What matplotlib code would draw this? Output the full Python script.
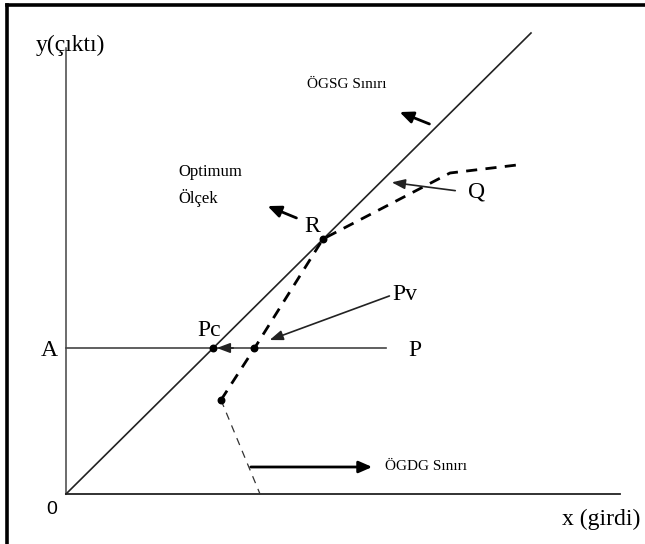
import matplotlib
matplotlib.use("Agg")
import matplotlib.pyplot as plt
import numpy as np

# frontier points (x = input, y = output)
crs_x = [0, 465]
crs_y = [0, 461]
vrs_x = [155, 188, 257, 384, 451]
vrs_y = [94, 145, 255, 321, 329]
ndrs_x = [155, 194]
ndrs_y = [94, 0]
level_A = 146
p_line_x = [0, 320]
dots_x = [147, 188, 155, 257]
dots_y = [146, 146, 94, 255]

serif = "Liberation Serif"

fig = plt.figure(figsize=(6.45, 5.44), dpi=100)
ax = fig.add_axes([0, 0, 1, 1])
ax.set_xlim(-66, 579)
ax.set_ylim(-50, 494)
ax.axis("off")

# border lines at top and left
fig.add_artist(plt.Line2D([7 / 645, 1], [1 - 5 / 544, 1 - 5 / 544], color="black", lw=2.6))
fig.add_artist(plt.Line2D([7 / 645, 7 / 645], [0, 1 - 5 / 544], color="black", lw=2.6))

# axes
ax.plot([0, 0], [0, 446], color="#444444", lw=1.1)
ax.plot([0, 554], [0, 0], color="#222222", lw=1.3)

# CRS line
ax.plot(crs_x, crs_y, color="#222222", lw=1.2)
# horizontal at A
ax.plot(p_line_x, [level_A, level_A], color="#444444", lw=1.2)
# VRS frontier
ax.plot(vrs_x, vrs_y, color="black", lw=2.0, ls=(0, (4, 3)))
ax.plot(ndrs_x, ndrs_y, color="#333333", lw=0.9, ls=(0, (6, 5)))
ax.scatter(dots_x, dots_y, s=22, color="black", zorder=5)

arrow_big = dict(arrowstyle="-|>,head_length=0.8,head_width=0.35", color="black", lw=2.0)
arrow_thin = dict(arrowstyle="-|>,head_length=0.8,head_width=0.3", color="#222222", lw=1.2)

# ÖGSG
ax.annotate("", xy=(331, 383), xytext=(366, 369), arrowprops=arrow_big)
ax.text(241, 409, "ÖGSG Sınırı", family=serif, fontsize=11, va="center")
# optimum scale
ax.annotate("", xy=(199, 289), xytext=(233, 275), arrowprops=arrow_big)
ax.text(112, 322, "Optimum", family=serif, fontsize=12, va="center")
ax.text(112, 296, "Ölçek", family=serif, fontsize=12, va="center")
ax.text(238, 268, "R", family=serif, fontsize=17, va="center")
# Q
ax.annotate("", xy=(323, 312), xytext=(392, 303), arrowprops=arrow_thin)
ax.text(402, 302, "Q", family=serif, fontsize=17, va="center")
# Pv
ax.annotate("", xy=(201, 153), xytext=(326, 199), arrowprops=arrow_thin)
ax.text(326, 199, "Pv", family=serif, fontsize=17, va="center")
# Pc
ax.annotate("", xy=(148, level_A), xytext=(170, level_A), arrowprops=arrow_thin)
ax.text(131, 164, "Pc", family=serif, fontsize=17, va="center")
ax.text(342, level_A - 2, "P", family=serif, fontsize=17, va="center")
ax.text(-8, level_A - 2, "A", family=serif, fontsize=17, va="center", ha="right")
# ÖGDG
ax.annotate("", xy=(309, 27), xytext=(182, 27), arrowprops=arrow_big)
ax.text(319, 28, "ÖGDG Sınırı", family=serif, fontsize=11, va="center")

# axis labels
ax.text(-30, 449, "y(çıktı)", family=serif, fontsize=17, va="center")
ax.text(574, -25, "x (girdi)", family=serif, fontsize=17, va="center", ha="right")
ax.text(-14, -16, "0", fontsize=14, va="center", ha="center", family="Liberation Sans")

fig.savefig("out.png", dpi=100)
